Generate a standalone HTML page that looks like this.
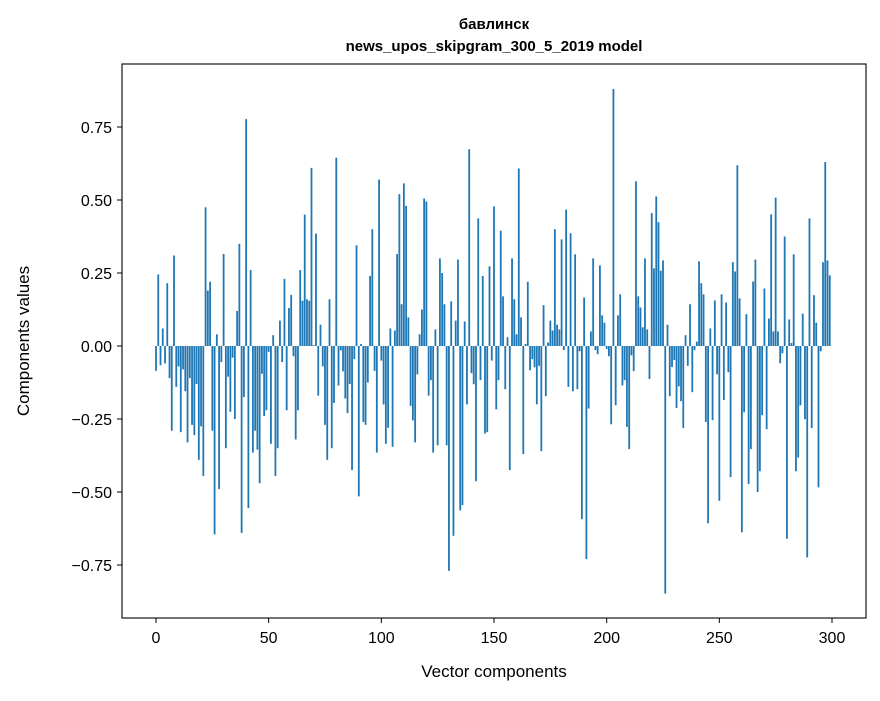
<!DOCTYPE html>
<html><head><meta charset="utf-8"><style>
body{margin:0;background:#fff}
svg text{font-family:"Liberation Sans","DejaVu Sans",sans-serif;fill:#000}
</style></head><body>
<svg id="chart" width="880" height="696" viewBox="0 0 880 696" xmlns="http://www.w3.org/2000/svg">
<rect width="880" height="696" fill="#fff"/>
<text x="494" y="29" text-anchor="middle" font-size="15" font-weight="bold">бавлинск</text>
<text x="494" y="51" text-anchor="middle" font-size="15" font-weight="bold">news_upos_skipgram_300_5_2019 model</text>
<g id="bars"></g>
<g id="axes"></g>
<rect x="122" y="64" width="744" height="554" fill="none" stroke="#000" stroke-width="1.1"/>
<text x="494" y="677" text-anchor="middle" font-size="17">Vector components</text>
<text x="0" y="0" transform="translate(29,341) rotate(-90)" text-anchor="middle" font-size="17">Components values</text>
</svg>
<script>
const values = [
-0.085,0.245,-0.066,0.06,-0.06,0.215,-0.11,-0.29,0.31,-0.14,
-0.07,-0.295,-0.08,-0.155,-0.33,-0.11,-0.27,-0.305,-0.13,-0.39,
-0.275,-0.445,0.475,0.19,0.22,-0.29,-0.645,0.04,-0.49,-0.055,
0.315,-0.35,-0.105,-0.225,-0.04,-0.25,0.12,0.35,-0.64,-0.175,
0.777,-0.555,0.26,-0.365,-0.29,-0.355,-0.47,-0.095,-0.24,-0.22,
-0.02,-0.335,0.037,-0.445,-0.35,0.087,-0.055,0.23,-0.22,0.13,
0.175,-0.035,-0.32,-0.22,0.26,0.155,0.45,0.16,0.155,0.61,
0.003,0.385,-0.17,0.073,-0.07,-0.27,-0.39,0.16,-0.35,-0.195,
0.645,-0.135,-0.015,-0.087,-0.18,-0.23,-0.13,-0.425,-0.045,0.345,
-0.515,0.007,-0.26,-0.27,-0.125,0.24,0.40,-0.085,-0.365,0.57,
-0.05,-0.2,-0.335,-0.28,0.06,-0.345,0.053,0.315,0.52,0.143,
0.557,0.48,0.098,-0.205,-0.255,-0.33,-0.097,0.04,0.125,0.505,
0.495,-0.17,-0.117,-0.365,0.057,-0.34,0.30,0.25,0.143,-0.34,
-0.77,0.153,-0.65,0.087,0.296,-0.563,-0.545,0.084,-0.20,0.674,
-0.093,-0.131,-0.463,0.437,-0.117,0.24,-0.30,-0.295,0.273,-0.05,
0.478,-0.217,-0.117,0.395,0.17,-0.148,0.03,-0.425,0.30,0.16,
0.04,0.608,0.098,-0.37,0.007,0.22,-0.083,-0.045,-0.073,-0.2,
-0.068,-0.36,0.14,-0.172,0.012,0.087,0.053,0.40,0.073,0.057,
0.365,-0.014,0.467,-0.14,0.386,-0.155,0.314,-0.148,-0.018,-0.593,
0.166,-0.73,-0.214,0.05,0.30,-0.014,-0.028,0.276,0.105,0.08,
-0.01,-0.035,-0.268,0.88,-0.203,0.105,0.177,-0.135,-0.117,-0.277,
-0.353,-0.032,-0.086,0.564,0.17,0.132,0.064,0.30,0.057,-0.113,
0.455,0.266,0.512,0.424,0.258,0.293,-0.848,0.073,-0.172,-0.072,
-0.048,-0.212,-0.138,-0.189,-0.281,0.037,-0.068,0.143,-0.158,-0.014,
0.015,0.29,0.215,0.177,-0.26,-0.607,0.06,-0.254,0.156,-0.097,
-0.53,0.177,-0.185,0.149,-0.09,-0.449,0.287,0.255,0.619,0.163,
-0.638,-0.227,0.109,-0.473,-0.353,0.221,0.296,-0.50,-0.429,-0.237,
0.197,-0.285,0.094,0.451,0.05,0.508,0.05,-0.059,-0.025,0.375,
-0.66,0.091,0.01,0.314,-0.429,-0.382,-0.203,0.111,-0.251,-0.724,
0.437,-0.281,0.174,0.08,-0.484,-0.018,0.287,0.63,0.293,0.242
];
const xTicks = [0,50,100,150,200,250,300];
const yTicks = [-0.75,-0.5,-0.25,0,0.25,0.5,0.75];
const yTickLabels = ["\u22120.75","\u22120.50","\u22120.25","0.00","0.25","0.50","0.75"];

const NS = "http://www.w3.org/2000/svg";
function xs(i){ return 156 + i * (676/300); }
function ys(v){ return 346 - v * 292; }
const barsG = document.getElementById('bars');
const axesG = document.getElementById('axes');
const bw = 0.8 * 676/300;
values.forEach((v, i) => {
  const r = document.createElementNS(NS, 'rect');
  
  
  const y0 = ys(0), y1 = ys(v);
  r.setAttribute('x', xs(i) - bw/2);
  r.setAttribute('y', Math.min(y0, y1));
  r.setAttribute('width', bw);
  r.setAttribute('height', Math.max(Math.abs(y1 - y0), 0.3));
  r.setAttribute('fill', '#1f77b4');
  barsG.appendChild(r);
});
xTicks.forEach(t => {
  const l = document.createElementNS(NS, 'line');
  
  
  l.setAttribute('x1', xs(t)); l.setAttribute('x2', xs(t));
  l.setAttribute('y1', 618); l.setAttribute('y2', 623);
  l.setAttribute('stroke', '#000');
  axesG.appendChild(l);
  const tx = document.createElementNS(NS, 'text');
  
  
  tx.setAttribute('x', xs(t)); tx.setAttribute('y', 643);
  tx.setAttribute('text-anchor', 'middle'); tx.setAttribute('font-size', '16');
  tx.textContent = t;
  axesG.appendChild(tx);
});
yTicks.forEach((t, k) => {
  const l = document.createElementNS(NS, 'line');
  
  
  l.setAttribute('x1', 117); l.setAttribute('x2', 122);
  l.setAttribute('y1', ys(t)); l.setAttribute('y2', ys(t));
  l.setAttribute('stroke', '#000');
  axesG.appendChild(l);
  const tx = document.createElementNS(NS, 'text');
  
  
  tx.setAttribute('x', 112); tx.setAttribute('y', ys(t) + 6);
  tx.setAttribute('text-anchor', 'end'); tx.setAttribute('font-size', '16');
  tx.textContent = yTickLabels[k];
  axesG.appendChild(tx);
});
</script>
</body></html>
